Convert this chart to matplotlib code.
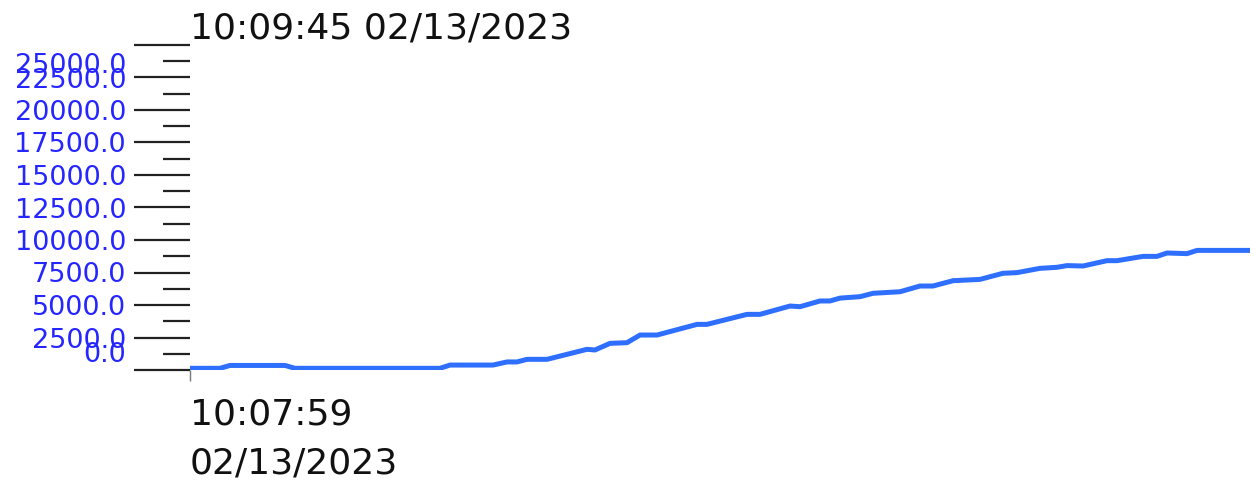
import matplotlib
matplotlib.use("Agg")
import matplotlib.pyplot as plt
import matplotlib.transforms as mtransforms
import numpy as np

# seconds after 10:07:59 and the reading at that moment
seconds = [0, 3, 4, 9.5, 10.5, 25, 26, 30.3, 31.7, 32.7, 33.7, 35.7, 39.7, 40.5,
           42, 43.7, 45, 46.7, 50.7, 51.7, 55.7, 57, 60, 61, 63, 64, 65, 67,
           68.3, 71, 73, 74.3, 76.3, 79, 81.3, 82.7, 85, 86.7, 87.7, 89.3, 91.7,
           92.7, 95.3, 96.7, 97.7, 99.7, 100.7, 106]
values = [130, 130, 350, 350, 130, 130, 380, 380, 620, 620, 820, 820, 1590, 1540,
          2050, 2100, 2690, 2690, 3510, 3510, 4280, 4280, 4920, 4870, 5310, 5310,
          5530, 5640, 5900, 6020, 6460, 6460, 6870, 6970, 7440, 7490, 7820, 7900,
          8030, 8000, 8410, 8410, 8740, 8740, 9000, 8950, 9200, 9200]

y_major = np.arange(0, 25001, 2500)
y_minor = np.arange(1250, 25000, 2500)
x_tick_label = "10:07:59\n02/13/2023"
top_label = "10:09:45 02/13/2023"

fig = plt.figure(figsize=(12.54, 4.86), dpi=100)
ax = fig.add_axes([190 / 1254, 116 / 486, 1060 / 1254, 325 / 486])

ax.plot(seconds, values, color="#2F6FFF", linewidth=3.6, solid_joinstyle="round",
        solid_capstyle="butt")

ax.set_xlim(0, 106)
ax.set_ylim(0, 25000)
for s in ax.spines.values():
    s.set_visible(False)

# y axis: long ticks with labels, short ticks between
ax.set_yticks(y_major)
ax.set_yticklabels(["%.1f" % v for v in y_major])
ax.set_yticks(y_minor, minor=True)
ax.tick_params(axis="y", which="major", length=40, width=1.6, color="#222222",
               pad=6, labelsize=19.5, labelcolor="#2525FF")
ax.tick_params(axis="y", which="minor", length=19.5, width=1.6, color="#222222")

# first and last labels are pushed inward like in the original
labels = ax.get_yticklabels()
labels[0].set_transform(labels[0].get_transform() +
                        mtransforms.ScaledTranslation(0, 13 / 72, fig.dpi_scale_trans))
labels[-1].set_transform(labels[-1].get_transform() +
                         mtransforms.ScaledTranslation(0, -13 / 72, fig.dpi_scale_trans))

# x axis: only the start time
ax.set_xticks([0])
ax.set_xticklabels([x_tick_label], ha="left", linespacing=1.55)
ax.tick_params(axis="x", length=8, width=1, color="#777777", pad=12,
               labelsize=26, labelcolor="#111111")

ax.set_title(top_label, loc="left", fontsize=26, color="#111111", pad=4)

fig.savefig("out.png", dpi=100)
